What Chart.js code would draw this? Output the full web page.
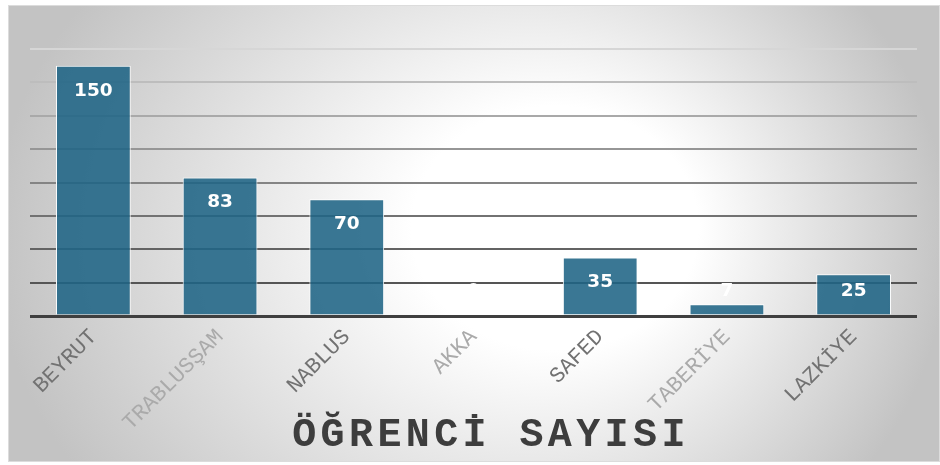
<!DOCTYPE html>
<html>
<head>
<meta charset="utf-8">
<script src="https://cdn.jsdelivr.net/npm/chart.js"></script>
<style>
  html, body { margin: 0; padding: 0; background: #fff; }
  #wrap { width: 940px; height: 465px; }
</style>
</head>
<body>
<div id="wrap"><canvas id="chart" width="940" height="465"></canvas></div>
<script>
const categories = ['BEYRUT', 'TRABLUSŞAM', 'NABLUS', 'AKKA', 'SAFED', 'TABERİYE', 'LAZKİYE'];
const ogrenciSayisi = [150, 83, 70, 0, 35, 7, 25];
const yMin = 0;
const yMax = 160;
const yStep = 20;
const chartTitle = 'ÖĞRENCİ SAYISI';

// grid lines get darker towards the base line
const gridShades = {0: '#3f3f3f', 20: '#555555', 40: '#636363', 60: '#727272', 80: '#848484',
    100: '#969696', 120: '#a9a9a9', 140: '#bdbdbd', 160: '#d6d6d6'};

const backgroundPlugin = {
    id: 'bg',
    beforeDraw(chart) {
        const ctx = chart.ctx;
        ctx.save();
        ctx.translate(471, 240);
        ctx.scale(1, 0.85);
        const g = ctx.createRadialGradient(120, -20, 0, 0, 0, 478);
        g.addColorStop(0, '#ffffff');
        g.addColorStop(0.3, '#ffffff');
        g.addColorStop(1, '#c3c3c3');
        ctx.fillStyle = g;
        ctx.fillRect(-463, -235 / 0.85, 932, 457 / 0.85);
        ctx.restore();
        ctx.save();
        ctx.strokeStyle = '#dcdcdc';
        ctx.lineWidth = 1;
        ctx.strokeRect(8.5, 5.5, 931, 456);
        ctx.restore();
    }
};

const valueLabels = {
    id: 'valueLabels',
    afterDatasetsDraw(chart) {
        const ctx = chart.ctx;
        const meta = chart.getDatasetMeta(0);
        const base = chart.scales.y.getPixelForValue(0);
        ctx.save();
        ctx.font = 'bold 18.5px "DejaVu Sans", Verdana, sans-serif';
        ctx.fillStyle = '#ffffff';
        ctx.textAlign = 'center';
        ctx.textBaseline = 'middle';
        meta.data.forEach((bar, i) => {
            const y = Math.min(bar.y + 25, base - 25);
            ctx.fillText(String(ogrenciSayisi[i]), bar.x, y);
        });
        ctx.restore();
    }
};

const bottomTitle = {
    id: 'bottomTitle',
    afterDraw(chart) {
        const ctx = chart.ctx;
        ctx.save();
        ctx.font = 'bold 40px "Liberation Mono", monospace';
        if ('letterSpacing' in ctx) ctx.letterSpacing = '4.4px';
        ctx.fillStyle = '#3d3d3d';
        ctx.textAlign = 'center';
        ctx.textBaseline = 'alphabetic';
        ctx.fillText(chartTitle, 491, 446);
        ctx.restore();
    }
};

new Chart(document.getElementById('chart'), {
    type: 'bar',
    data: {
        labels: categories,
        datasets: [{
            label: chartTitle,
            data: ogrenciSayisi,
            backgroundColor: 'rgba(31,100,133,0.88)',
            borderColor: '#ffffff',
            borderWidth: 1,
            categoryPercentage: 1,
            barPercentage: 0.59
        }]
    },
    options: {
        responsive: false,
        animation: false,
        layout: { padding: { left: 30, right: 23, top: 49, bottom: 0 } },
        plugins: {
            legend: { display: false },
            tooltip: { enabled: false },
            title: { display: false }
        },
        scales: {
            x: {
                grid: { display: false, drawTicks: false },
                border: { display: false },
                afterFit(scale) { scale.height = 149; },
                ticks: {
                    minRotation: 45,
                    maxRotation: 45,
                    autoSkip: false,
                    padding: 8,
                    font: { family: '"Liberation Mono", monospace', size: 22 },
                    color: ctx => ctx.index % 2 === 0 ? '#727272' : '#aaaaaa'
                }
            },
            y: {
                min: yMin,
                max: yMax,
                ticks: { display: false, stepSize: yStep },
                border: { display: false },
                afterFit(scale) { scale.width = 0; },
                grid: {
                    drawTicks: false,
                    color: ctx => gridShades[ctx.tick.value] || '#888888',
                    lineWidth: ctx => ctx.tick.value === 0 ? 3 : 2
                }
            }
        }
    },
    plugins: [backgroundPlugin, valueLabels, bottomTitle]
});
</script>
</body>
</html>
